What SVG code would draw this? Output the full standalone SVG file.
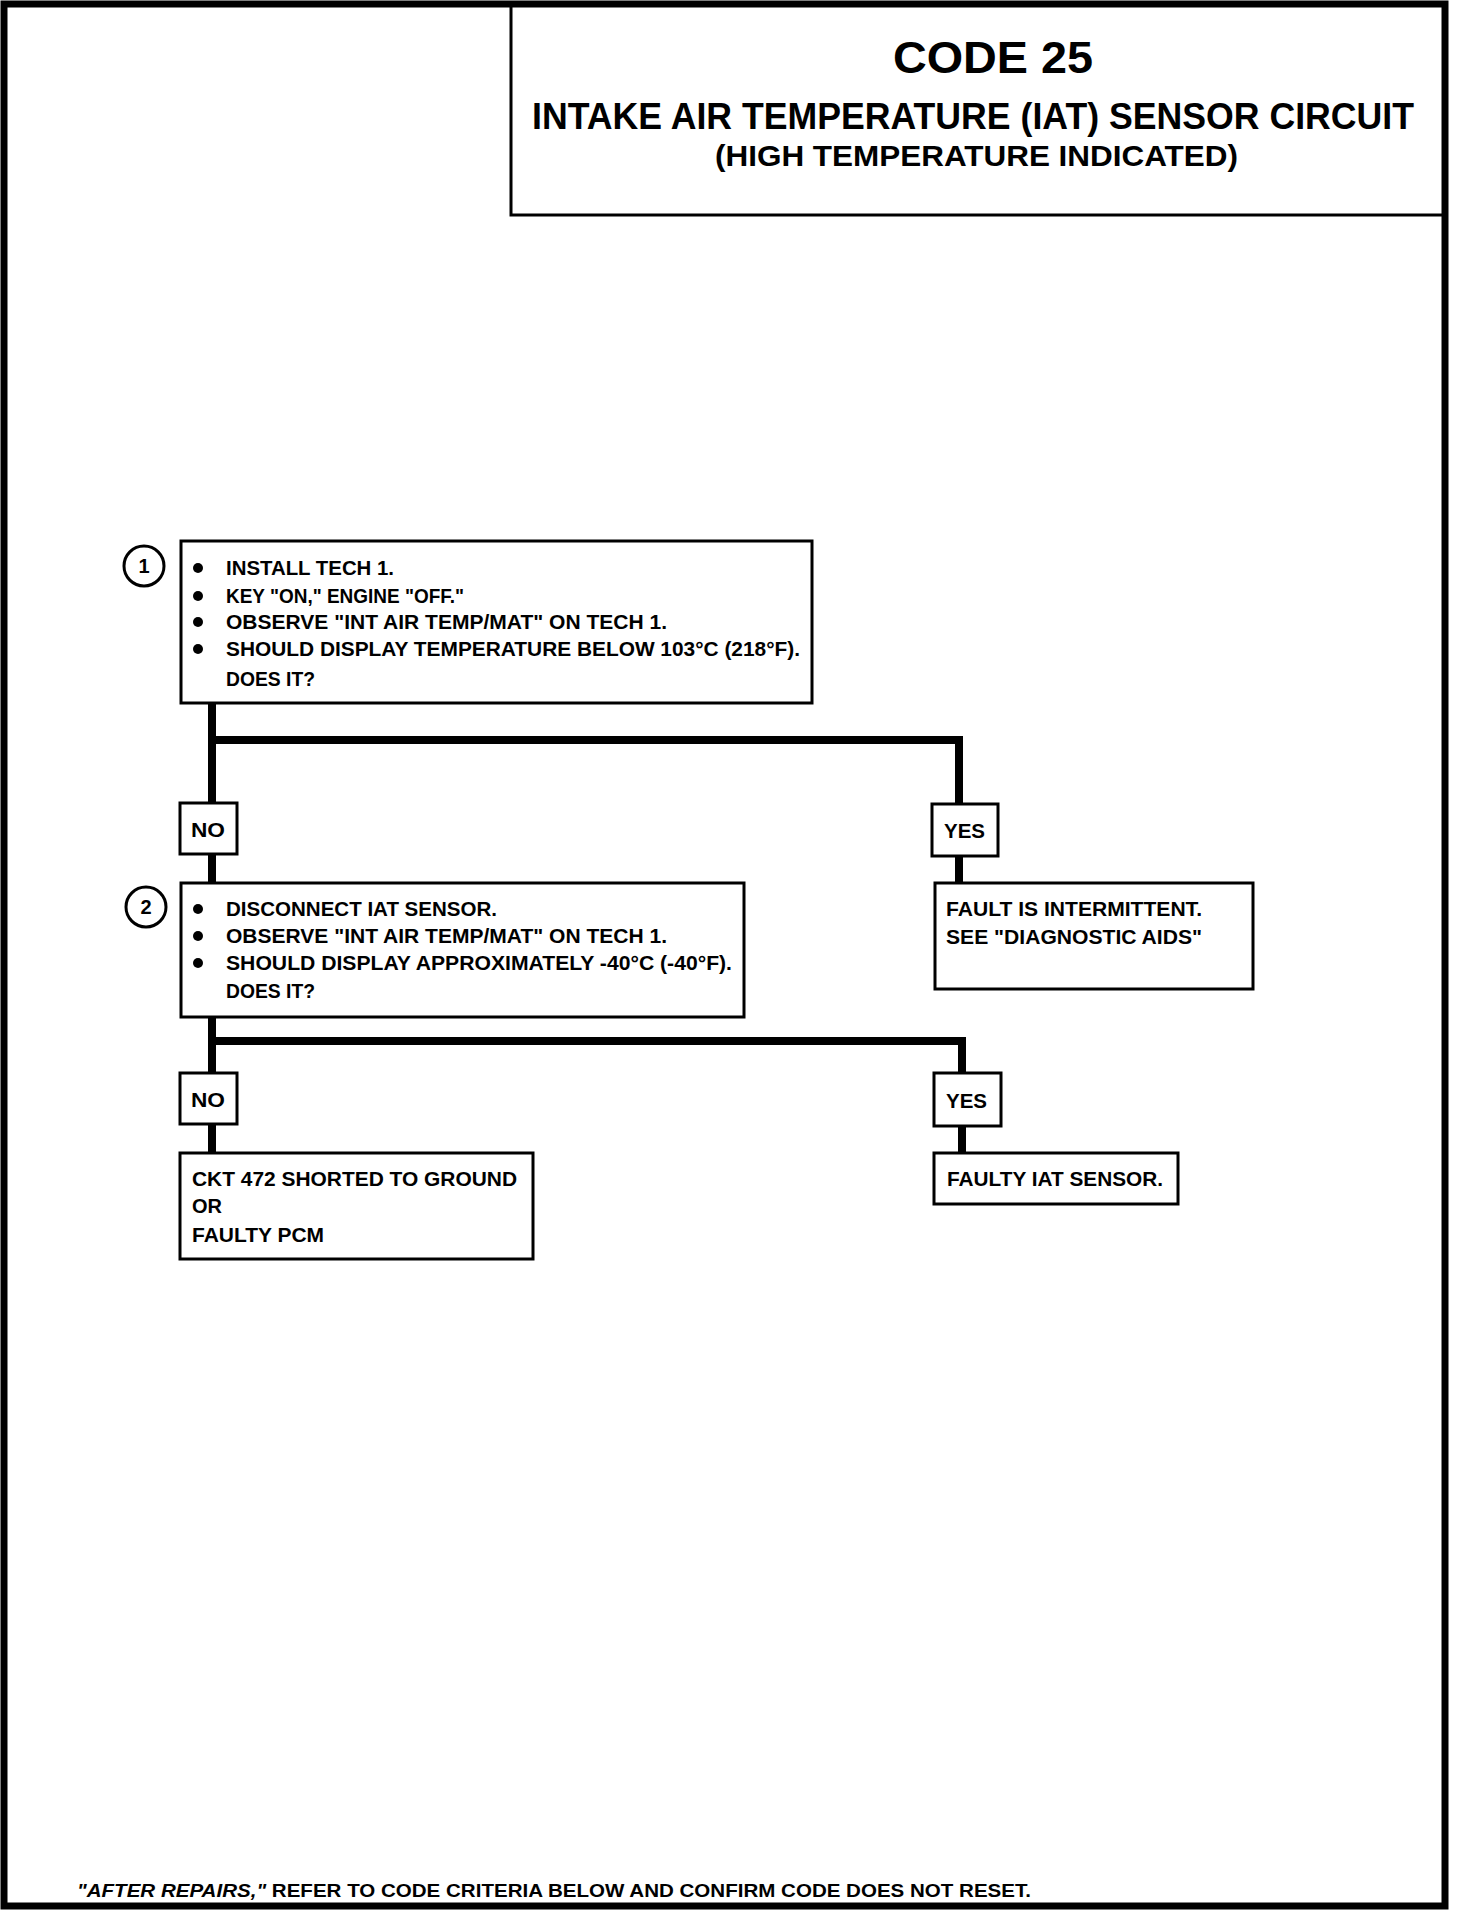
<svg xmlns="http://www.w3.org/2000/svg" width="1472" height="1910" viewBox="0 0 1472 1910">
<style>
  .t { font-family: "Liberation Sans", Arial, sans-serif; font-weight: bold; fill: #000; }
  .box { fill: #fff; stroke: #000; stroke-width: 3; }
  .lbl { fill: #fff; stroke: #000; stroke-width: 3; }
  .num { fill: #fff; stroke: #000; stroke-width: 3; }
  .conn { fill: none; stroke: #000; stroke-width: 8; stroke-linejoin: miter; stroke-linecap: butt; }
  .b { font-size: 20px; }
</style>
<defs>
  <circle id="bullet" r="5" fill="#000"/>
</defs>
<rect x="0" y="0" width="1472" height="1910" fill="#fff"/>
<rect x="4" y="4" width="1441" height="1902" fill="none" stroke="#000" stroke-width="7"/>

<g id="title">
  <rect x="511" y="5" width="934" height="210" fill="none" stroke="#000" stroke-width="3"/>
  <text class="t" x="993" y="73" font-size="44" text-anchor="middle" textLength="200" lengthAdjust="spacingAndGlyphs">CODE 25</text>
  <text class="t" x="532" y="129" font-size="36" textLength="882" lengthAdjust="spacingAndGlyphs">INTAKE AIR TEMPERATURE (IAT) SENSOR CIRCUIT</text>
  <text class="t" x="715" y="166" font-size="30" textLength="523" lengthAdjust="spacingAndGlyphs">(HIGH TEMPERATURE INDICATED)</text>
</g>

<g id="connectors">
  <path class="conn" d="M212 703 V803"/>
  <path class="conn" d="M212 854 V883"/>
  <path class="conn" d="M208 740 H959 V804"/>
  <path class="conn" d="M959 856 V883"/>
  <path class="conn" d="M212 1017 V1073"/>
  <path class="conn" d="M212 1124 V1153"/>
  <path class="conn" d="M208 1041 H962 V1073"/>
  <path class="conn" d="M962 1126 V1153"/>
</g>

<g id="step1">
  <circle class="num" cx="144" cy="566" r="20"/>
  <text class="t" x="144" y="573" font-size="20" text-anchor="middle">1</text>
  <rect class="box" x="181" y="541" width="631" height="162"/>
  <use href="#bullet" x="198" y="568"/>
  <use href="#bullet" x="198" y="596"/>
  <use href="#bullet" x="198" y="622"/>
  <use href="#bullet" x="198" y="649"/>
  <text class="t b" x="226" y="575" textLength="168" lengthAdjust="spacingAndGlyphs">INSTALL TECH 1.</text>
  <text class="t b" x="226" y="603" textLength="238" lengthAdjust="spacingAndGlyphs">KEY "ON," ENGINE "OFF."</text>
  <text class="t b" x="226" y="629" textLength="441" lengthAdjust="spacingAndGlyphs">OBSERVE "INT AIR TEMP/MAT" ON TECH 1.</text>
  <text class="t b" x="226" y="656" textLength="574" lengthAdjust="spacingAndGlyphs">SHOULD DISPLAY TEMPERATURE BELOW 103°C (218°F).</text>
  <text class="t b" x="226" y="686" textLength="89" lengthAdjust="spacingAndGlyphs">DOES IT?</text>
</g>

<g id="no1">
  <rect class="lbl" x="180" y="803" width="57" height="51"/>
  <text class="t" x="191" y="837" font-size="20" textLength="34" lengthAdjust="spacingAndGlyphs">NO</text>
</g>

<g id="yes1">
  <rect class="lbl" x="932" y="804" width="66" height="52"/>
  <text class="t" x="944" y="838" font-size="20" textLength="41" lengthAdjust="spacingAndGlyphs">YES</text>
</g>

<g id="step2">
  <circle class="num" cx="146" cy="907" r="20"/>
  <text class="t" x="146" y="914" font-size="20" text-anchor="middle">2</text>
  <rect class="box" x="181" y="883" width="563" height="134"/>
  <use href="#bullet" x="198" y="909"/>
  <use href="#bullet" x="198" y="936"/>
  <use href="#bullet" x="198" y="963"/>
  <text class="t b" x="226" y="916" textLength="271" lengthAdjust="spacingAndGlyphs">DISCONNECT IAT SENSOR.</text>
  <text class="t b" x="226" y="943" textLength="441" lengthAdjust="spacingAndGlyphs">OBSERVE "INT AIR TEMP/MAT" ON TECH 1.</text>
  <text class="t b" x="226" y="970" textLength="506" lengthAdjust="spacingAndGlyphs">SHOULD DISPLAY APPROXIMATELY -40°C (-40°F).</text>
  <text class="t b" x="226" y="998" textLength="89" lengthAdjust="spacingAndGlyphs">DOES IT?</text>
</g>

<g id="intermittent">
  <rect class="box" x="935" y="883" width="318" height="106"/>
  <text class="t b" x="946" y="916" textLength="256" lengthAdjust="spacingAndGlyphs">FAULT IS INTERMITTENT.</text>
  <text class="t b" x="946" y="944" textLength="256" lengthAdjust="spacingAndGlyphs">SEE "DIAGNOSTIC AIDS"</text>
</g>

<g id="no2">
  <rect class="lbl" x="180" y="1073" width="57" height="51"/>
  <text class="t" x="191" y="1107" font-size="20" textLength="34" lengthAdjust="spacingAndGlyphs">NO</text>
</g>

<g id="yes2">
  <rect class="lbl" x="934" y="1073" width="67" height="53"/>
  <text class="t" x="946" y="1108" font-size="20" textLength="41" lengthAdjust="spacingAndGlyphs">YES</text>
</g>

<g id="ckt472">
  <rect class="box" x="180" y="1153" width="353" height="106"/>
  <text class="t b" x="192" y="1186" textLength="325" lengthAdjust="spacingAndGlyphs">CKT 472 SHORTED TO GROUND</text>
  <text class="t b" x="192" y="1213" textLength="30" lengthAdjust="spacingAndGlyphs">OR</text>
  <text class="t b" x="192" y="1242" textLength="132" lengthAdjust="spacingAndGlyphs">FAULTY PCM</text>
</g>

<g id="faultyiat">
  <rect class="box" x="934" y="1153" width="244" height="51"/>
  <text class="t b" x="947" y="1186" textLength="216" lengthAdjust="spacingAndGlyphs">FAULTY IAT SENSOR.</text>
</g>

<g id="footer">
  <text class="t" x="77" y="1897" font-size="18" textLength="954" lengthAdjust="spacingAndGlyphs"><tspan font-style="italic">"AFTER REPAIRS,"</tspan> REFER TO CODE CRITERIA  BELOW AND CONFIRM CODE DOES NOT RESET.</text>
</g>
</svg>
